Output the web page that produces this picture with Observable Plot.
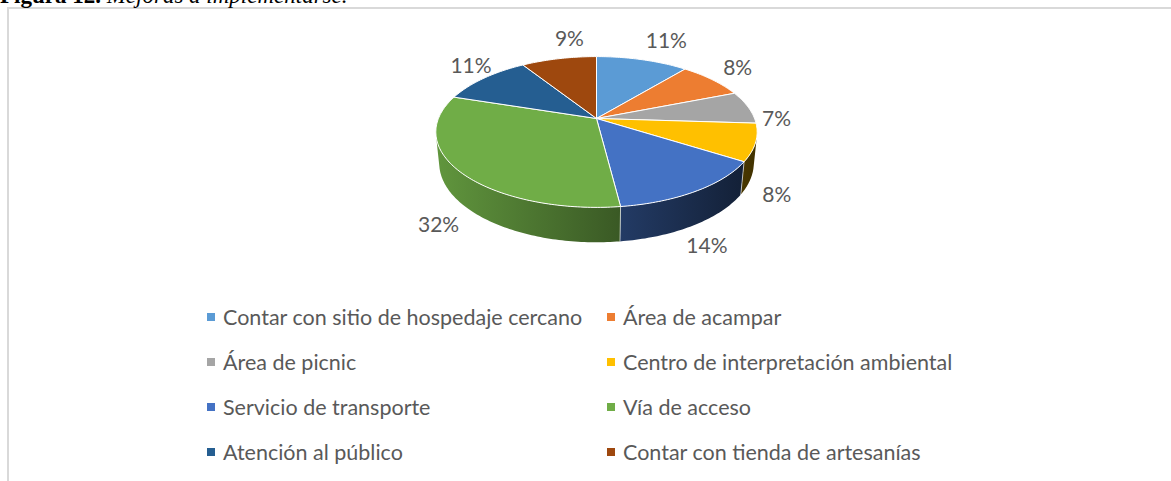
<!DOCTYPE html>
<html><head><meta charset="utf-8">
<script src="https://cdn.jsdelivr.net/npm/d3@7"></script>
<script src="https://cdn.jsdelivr.net/npm/@observablehq/plot@0.6"></script>
<style>
html,body{margin:0;padding:0;background:#fff;overflow:hidden;width:1171px;height:481px;}
#frame{position:absolute;left:7px;top:7px;width:1300px;height:600px;border-left:2px solid #d9d9d9;border-top:2px solid #d9d9d9;}
#title{position:absolute;left:0;top:-16px;font-family:"Liberation Serif";font-size:23px;line-height:23px;white-space:nowrap;color:#000;}
#chart{position:absolute;left:0;top:0;}
#legend{position:relative;width:1171px;height:191px;font-family:Lato;font-size:21.5px;color:#595959;}
.item{position:absolute;display:flex;align-items:center;white-space:nowrap;height:28px;}
.sw{width:8px;height:8px;margin-right:8px;flex:none;}
</style></head><body>
<div id="frame"></div>
<div id="title"><b>Figura 12.</b> <i>Mejoras a implementarse.</i></div>
<div id="chart"></div>
<script>
const categories = ["Contar con sitio de hospedaje cercano","Área de acampar","Área de picnic","Centro de interpretación ambiental","Servicio de transporte","Vía de acceso","Atención al público","Contar con tienda de artesanías"];
const percentages = [11, 8, 7, 8, 14, 32, 11, 9];
const colors = ["#5B9BD5","#ED7D31","#A5A5A5","#FFC000","#4472C4","#70AD47","#255E91","#9E480E"];

const W = 1171, H = 290;
const view = {cx: 596, cy: 118, k: 784, D: 4.96, phi: 27.5 * Math.PI / 180, T: 0.2226};
function project(theta, r, Y) {
  const X = r * Math.sin(theta), Z = r * Math.cos(theta);
  const s = Math.sin(view.phi), c = Math.cos(view.phi);
  const u = Y * c + Z * s;
  const w = view.D + Z * c - Y * s;
  return {x: view.cx + view.k * X / w, y: view.cy - view.k * u / w, w};
}
function shade(col, f) {
  const c = d3.rgb(col);
  return d3.rgb(c.r * f, c.g * f, c.b * f).formatHex();
}
const light = X => 0.56 - 0.3 * X;

const total = d3.sum(percentages);
let acc = 0;
const slices = percentages.map((v, i) => {
  const a0 = acc / total * 2 * Math.PI; acc += v;
  const a1 = acc / total * 2 * Math.PI;
  return {i, a0, a1, mid: (a0 + a1) / 2};
});

const step = Math.PI / 180;
const apex = project(0, 0, 0);
// top face polygons
const topPts = [];
slices.forEach(s => {
  topPts.push({id: "t" + s.i, x: apex.x, y: apex.y, shade: colors[s.i]});
  const n = Math.max(2, Math.ceil((s.a1 - s.a0) / step));
  for (let j = 0; j <= n; j++) {
    const p = project(s.a0 + (s.a1 - s.a0) * j / n, 1, 0);
    topPts.push({id: "t" + s.i, x: p.x, y: p.y, shade: colors[s.i]});
  }
  topPts.push({id: "t" + s.i, x: apex.x, y: apex.y, shade: colors[s.i]});
});

// visible (front-facing) part of the cylinder side
const cLim = -1 / (view.D * Math.cos(view.phi));
const vis0 = Math.acos(cLim), vis1 = 2 * Math.PI - Math.acos(cLim);
const sidePts = [];
slices.forEach(s => {
  const b0 = Math.max(s.a0, vis0), b1 = Math.min(s.a1, vis1);
  if (b1 <= b0) return;
  const n = Math.max(2, Math.ceil((b1 - b0) / step));
  const top = [], bot = [];
  for (let j = 0; j <= n; j++) {
    const a = b0 + (b1 - b0) * j / n;
    top.push(project(a, 1, 0));
    bot.push(project(a, 1, -view.T));
  }
  [...top, ...bot.reverse()].forEach(p => sidePts.push({id: "s" + s.i, x: p.x, y: p.y, shade: `url(#side${s.i})`}));
});

// light edges on the side at slice boundaries
const sideEdges = slices.filter(s => s.a1 > vis0 && s.a1 < vis1).flatMap(s => {
  const p0 = project(s.a1, 1, 0), p1 = project(s.a1, 1, -view.T);
  return [{id: "e" + s.i, x: p0.x, y: p0.y}, {id: "e" + s.i, x: p1.x, y: p1.y}];
});

// data labels
const labels = slices.map(s => {
  const Z = Math.cos(s.mid), X = Math.sin(s.mid);
  const t = Math.max(0, Math.min(1, 0.5 - (Z - 0.15) * 2));
  const p = project(s.mid, 1, -view.T * t);
  const front = t >= 1;
  const dx = front ? 28 * X - 2 : 24 * X + 6 + 70 * Math.max(0, Z - 0.8);
  const dy = front ? 21 : -20 * Z;
  return {x: p.x + dx, y: p.y + dy, text: percentages[s.i] + "%"};
});

// gradient defs for the shaded sides
function defsMark() {
  const ns = "http://www.w3.org/2000/svg";
  const defs = document.createElementNS(ns, "defs");
  const xl = project(-Math.PI / 2, 1, 0).x, xr = project(Math.PI / 2, 1, 0).x;
  colors.forEach((c, i) => {
    const g = document.createElementNS(ns, "linearGradient");
    g.setAttribute("id", "side" + i);
    g.setAttribute("gradientUnits", "userSpaceOnUse");
    g.setAttribute("x1", xl); g.setAttribute("x2", xr);
    g.setAttribute("y1", 0); g.setAttribute("y2", 0);
    [[0, -1], [0.5, 0], [1, 1]].forEach(([o, X]) => {
      const st = document.createElementNS(ns, "stop");
      st.setAttribute("offset", o);
      st.setAttribute("stop-color", shade(c, light(X)));
      g.appendChild(st);
    });
    defs.appendChild(g);
  });
  return defs;
}

const plot = Plot.plot({
  width: W, height: H, margin: 0,
  x: {domain: [0, W], range: [0, W], axis: null},
  y: {domain: [0, H], range: [0, H], axis: null},
  color: {type: "identity"},
  style: {background: "transparent", overflow: "visible"},
  marks: [
    defsMark,
    Plot.line(sidePts, {x: "x", y: "y", z: "id", fill: "shade", stroke: "none"}),
    Plot.line(sideEdges, {x: "x", y: "y", z: "id", stroke: "#ffffff", strokeOpacity: 0.6, strokeWidth: 1}),
    Plot.line(topPts, {x: "x", y: "y", z: "id", fill: "shade", stroke: "#ffffff", strokeWidth: 1, strokeLinejoin: "round"}),
    Plot.text(labels, {x: "x", y: "y", text: "text", fill: "#595959", fontSize: 21, fontFamily: "Lato"})
  ]
});
const chart = document.getElementById("chart");
chart.appendChild(plot);

// legend (HTML, below the SVG)
const legend = document.createElement("div");
legend.id = "legend";
categories.forEach((c, i) => {
  const item = document.createElement("div");
  item.className = "item";
  const col = i % 2, row = Math.floor(i / 2);
  item.style.left = (col ? 607 : 207) + "px";
  item.style.top = (317 - H + row * 45 - 14) + "px";
  const sw = document.createElement("span");
  sw.className = "sw"; sw.style.background = colors[i];
  const tx = document.createElement("span");
  tx.textContent = c;
  item.appendChild(sw); item.appendChild(tx);
  legend.appendChild(item);
});
chart.appendChild(legend);
</script>
</body></html>
